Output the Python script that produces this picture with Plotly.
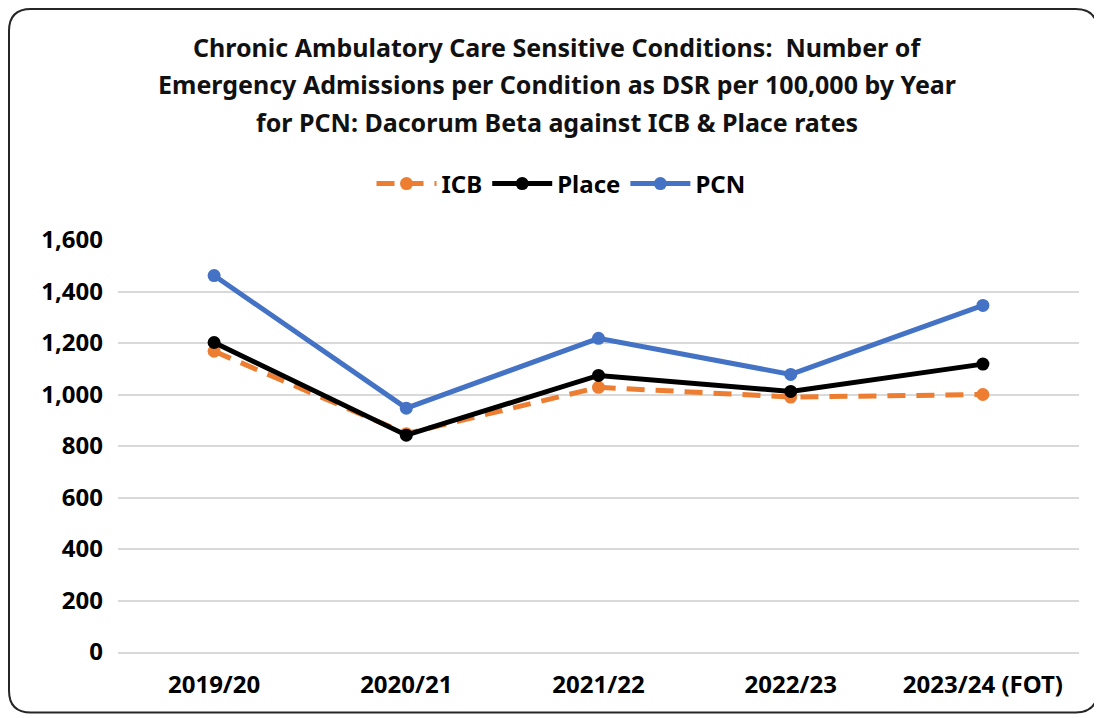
import plotly.graph_objects as go

# data
years = ["2019/20", "2020/21", "2021/22", "2022/23", "2023/24 (FOT)"]
icb = [1168, 848, 1028, 990, 1000]
place = [1202, 842, 1074, 1012, 1118]
pcn = [1462, 947, 1218, 1078, 1346]

title_lines = [
    "Chronic Ambulatory Care Sensitive Conditions:  Number of",
    "Emergency Admissions per Condition as DSR per 100,000 by Year",
    "for PCN: Dacorum Beta against ICB & Place rates",
]

# the page puts the figure 8px in from the top-left corner
OFF = 8
W, H = 1102 - OFF, 718 - OFF
L, R, T, B = 110, 23, 232, 66
pw, ph = W - L - R, H - T - B
FONT = "Noto Sans"

fig = go.Figure()

fig.add_trace(go.Scatter(x=years, y=icb, name="ICB", mode="lines+markers",
                         line=dict(color="#ED7D31", width=5, dash="18px,11px"),
                         marker=dict(size=13, color="#ED7D31")))
fig.add_trace(go.Scatter(x=years, y=place, name="Place", mode="lines+markers",
                         line=dict(color="black", width=5),
                         marker=dict(size=13, color="black")))
fig.add_trace(go.Scatter(x=years, y=pcn, name="PCN", mode="lines+markers",
                         line=dict(color="#4472C4", width=5),
                         marker=dict(size=13, color="#4472C4")))

# helpers: screen pixel (as in the reference) -> paper coords
def px(x):
    return (x - OFF - L) / pw

def py(y):
    return (H - B - (y - OFF)) / ph

# title as three annotation lines (Excel has wide line spacing)
for i, line in enumerate(title_lines):
    fig.add_annotation(text="<b>" + line + "</b>", xref="paper", yref="paper",
                       x=px(557), y=py(47 + i * 37.5), showarrow=False,
                       xanchor="center", yanchor="middle",
                       font=dict(family=FONT, size=25, color="#111111"))

# rounded border around the chart
x0, x1, y0, y1, r = 9, 1097.5, 9, 712.5, 22
path = (f"M {px(x0 + r)},{py(y0)} L {px(x1 - r)},{py(y0)} "
        f"Q {px(x1)},{py(y0)} {px(x1)},{py(y0 + r)} "
        f"L {px(x1)},{py(y1 - r)} Q {px(x1)},{py(y1)} {px(x1 - r)},{py(y1)} "
        f"L {px(x0 + r)},{py(y1)} Q {px(x0)},{py(y1)} {px(x0)},{py(y1 - r)} "
        f"L {px(x0)},{py(y0 + r)} Q {px(x0)},{py(y0)} {px(x0 + r)},{py(y0)} Z")
fig.add_shape(type="path", path=path, xref="paper", yref="paper",
              line=dict(color="#262626", width=2), layer="above")

yt = list(range(0, 1601, 200))

fig.update_layout(
    width=W, height=H,
    margin=dict(l=L, r=R, t=T, b=B),
    paper_bgcolor="white", plot_bgcolor="white",
    font=dict(family=FONT, color="black"),
    showlegend=True,
    legend=dict(orientation="h", x=px(561), y=py(184), xanchor="center", yanchor="middle",
                font=dict(family=FONT, size=24, color="black", weight="bold"),
                itemwidth=60, traceorder="normal"),
    hovermode="x unified",
)
fig.update_xaxes(range=[-0.5, 4.5], showgrid=False, showline=True, linecolor="#d9d9d9",
                 linewidth=2, ticks="", ticklabelstandoff=10,
                 tickfont=dict(family=FONT, size=24, color="black"),
                 tickvals=years, ticktext=["<b>" + y + "</b>" for y in years])
fig.update_yaxes(range=[0, 1600], showgrid=True, gridcolor="#d9d9d9", gridwidth=2,
                 zeroline=False, showline=False, ticklabelstandoff=14,
                 tickfont=dict(family=FONT, size=24, color="black"),
                 tickvals=yt, ticktext=["<b>" + f"{v:,}" + "</b>" for v in yt])

fig.write_html("out.html")
